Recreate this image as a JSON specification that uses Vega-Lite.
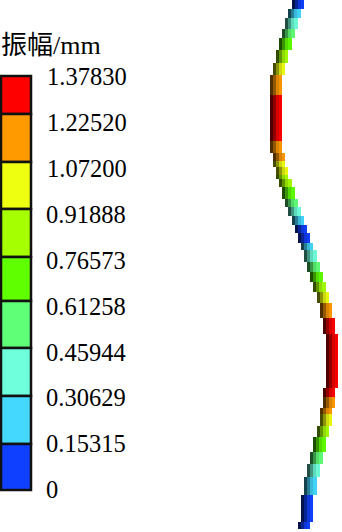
{"$schema":"https://vega.github.io/schema/vega-lite/v6.json","width":342,"height":532,"padding":0,"autosize":"none","background":"white","config":{"view":{"stroke":null}},
"datasets":{"strip":[
{"x0":292,"x1":295,"x2":298,"x3":301,"x4":304,"y0":0,"y1":9,"band":"b0"},
{"x0":288,"x1":291,"x2":294,"x3":297,"x4":301,"y0":9,"y1":18,"band":"b1"},
{"x0":285,"x1":288,"x2":291,"x3":294,"x4":298,"y0":18,"y1":29,"band":"b2"},
{"x0":282,"x1":285,"x2":288,"x3":291,"x4":295,"y0":29,"y1":38,"band":"b3"},
{"x0":279,"x1":282,"x2":285,"x3":288,"x4":292,"y0":38,"y1":50,"band":"b4"},
{"x0":276,"x1":279,"x2":282,"x3":285,"x4":288,"y0":50,"y1":63,"band":"b5"},
{"x0":273,"x1":276,"x2":279,"x3":282,"x4":285,"y0":63,"y1":75,"band":"b6"},
{"x0":270,"x1":273,"x2":276,"x3":279,"x4":282,"y0":75,"y1":95,"band":"b7"},
{"x0":270,"x1":273,"x2":276,"x3":279,"x4":282,"y0":95,"y1":141,"band":"b8"},
{"x0":270,"x1":273,"x2":276,"x3":279,"x4":282,"y0":141,"y1":153,"band":"b7"},
{"x0":273,"x1":276,"x2":279,"x3":282,"x4":285,"y0":153,"y1":161,"band":"b7"},
{"x0":273,"x1":276,"x2":279,"x3":282,"x4":285,"y0":161,"y1":167,"band":"b6"},
{"x0":276,"x1":279,"x2":282,"x3":285,"x4":288,"y0":167,"y1":175,"band":"b6"},
{"x0":276,"x1":279,"x2":282,"x3":285,"x4":288,"y0":175,"y1":179,"band":"b5"},
{"x0":279,"x1":282,"x2":285,"x3":288,"x4":292,"y0":179,"y1":187,"band":"b5"},
{"x0":282,"x1":285,"x2":288,"x3":291,"x4":295,"y0":187,"y1":199,"band":"b4"},
{"x0":285,"x1":288,"x2":291,"x3":294,"x4":298,"y0":199,"y1":207,"band":"b3"},
{"x0":288,"x1":291,"x2":294,"x3":297,"x4":301,"y0":207,"y1":216,"band":"b2"},
{"x0":292,"x1":295,"x2":298,"x3":301,"x4":304,"y0":216,"y1":225,"band":"b1"},
{"x0":295,"x1":298,"x2":301,"x3":304,"x4":307,"y0":225,"y1":233,"band":"b0"},
{"x0":298,"x1":301,"x2":304,"x3":307,"x4":310,"y0":233,"y1":243,"band":"b0"},
{"x0":301,"x1":304,"x2":307,"x3":310,"x4":313,"y0":243,"y1":250,"band":"b1"},
{"x0":304,"x1":307,"x2":310,"x3":313,"x4":317,"y0":250,"y1":262,"band":"b2"},
{"x0":307,"x1":310,"x2":313,"x3":316,"x4":320,"y0":262,"y1":272,"band":"b3"},
{"x0":310,"x1":313,"x2":316,"x3":319,"x4":323,"y0":272,"y1":282,"band":"b4"},
{"x0":313,"x1":316,"x2":319,"x3":322,"x4":326,"y0":282,"y1":292,"band":"b5"},
{"x0":317,"x1":320,"x2":323,"x3":326,"x4":329,"y0":292,"y1":303,"band":"b6"},
{"x0":320,"x1":323,"x2":326,"x3":329,"x4":332,"y0":303,"y1":318,"band":"b7"},
{"x0":323,"x1":326,"x2":329,"x3":332,"x4":335,"y0":318,"y1":334,"band":"b8"},
{"x0":326,"x1":329,"x2":332,"x3":335,"x4":338,"y0":334,"y1":388,"band":"b8"},
{"x0":323,"x1":326,"x2":329,"x3":332,"x4":335,"y0":388,"y1":397,"band":"b8"},
{"x0":323,"x1":326,"x2":329,"x3":332,"x4":335,"y0":397,"y1":408,"band":"b7"},
{"x0":320,"x1":323,"x2":326,"x3":329,"x4":332,"y0":408,"y1":414,"band":"b7"},
{"x0":320,"x1":323,"x2":326,"x3":329,"x4":332,"y0":414,"y1":426,"band":"b6"},
{"x0":317,"x1":320,"x2":323,"x3":326,"x4":329,"y0":426,"y1":437,"band":"b5"},
{"x0":313,"x1":316,"x2":319,"x3":322,"x4":326,"y0":437,"y1":452,"band":"b4"},
{"x0":310,"x1":313,"x2":316,"x3":319,"x4":323,"y0":452,"y1":464,"band":"b3"},
{"x0":307,"x1":310,"x2":313,"x3":316,"x4":320,"y0":464,"y1":477,"band":"b2"},
{"x0":304,"x1":307,"x2":310,"x3":313,"x4":317,"y0":477,"y1":495,"band":"b1"},
{"x0":301,"x1":304,"x2":307,"x3":310,"x4":313,"y0":495,"y1":522,"band":"b0"},
{"x0":298,"x1":301,"x2":304,"x3":307,"x4":310,"y0":522,"y1":529,"band":"b0"}
],
"key":[
{"x0":1,"x4":31,"y0":76,"y1":114,"band":"b8"},
{"x0":1,"x4":31,"y0":114,"y1":162,"band":"b7"},
{"x0":1,"x4":31,"y0":162,"y1":209,"band":"b6"},
{"x0":1,"x4":31,"y0":209,"y1":257,"band":"b5"},
{"x0":1,"x4":31,"y0":257,"y1":301,"band":"b4"},
{"x0":1,"x4":31,"y0":301,"y1":348,"band":"b3"},
{"x0":1,"x4":31,"y0":348,"y1":396,"band":"b2"},
{"x0":1,"x4":31,"y0":396,"y1":444,"band":"b1"},
{"x0":1,"x4":31,"y0":444,"y1":490,"band":"b0"}
],
"labels":[
{"px":47,"py":78,"label":"1.37830"},
{"px":47,"py":124,"label":"1.22520"},
{"px":47,"py":170,"label":"1.07200"},
{"px":46,"py":216,"label":"0.91888"},
{"px":46,"py":262,"label":"0.76573"},
{"px":46,"py":308,"label":"0.61258"},
{"px":46,"py":354,"label":"0.45944"},
{"px":46,"py":399,"label":"0.30629"},
{"px":46,"py":445,"label":"0.15315"},
{"px":46,"py":491,"label":"0"}
],
"heading":[{"px":1,"py":46,"label":"振幅/mm"}]},
"encoding":{},
"layer":[
{"data":{"name":"strip"},"mark":{"type":"rect","color":"black"},"encoding":{"x":{"field":"x0","type":"quantitative","scale":{"domain":[0,342]},"axis":null},"x2":{"field":"x4"},"y":{"field":"y0","type":"quantitative","scale":{"domain":[532,0]},"axis":null},"y2":{"field":"y1"}}},
{"data":{"name":"strip"},"mark":{"type":"rect","opacity":0.3},"encoding":{"x":{"field":"x0","type":"quantitative","scale":{"domain":[0,342]},"axis":null},"x2":{"field":"x1"},"y":{"field":"y0","type":"quantitative","scale":{"domain":[532,0]},"axis":null},"y2":{"field":"y1"},"color":{"field":"band","type":"nominal","legend":null,"scale":{"domain":["b0","b1","b2","b3","b4","b5","b6","b7","b8"],"range":["#1040ff","#44d8ff","#70ffdc","#60ff78","#60ff00","#a6ff00","#eeff10","#ff9a00","#ff0000"]}}}},
{"data":{"name":"strip"},"mark":{"type":"rect","opacity":0.58},"encoding":{"x":{"field":"x1","type":"quantitative","scale":{"domain":[0,342]},"axis":null},"x2":{"field":"x2"},"y":{"field":"y0","type":"quantitative","scale":{"domain":[532,0]},"axis":null},"y2":{"field":"y1"},"color":{"field":"band","type":"nominal","legend":null}}},
{"data":{"name":"strip"},"mark":{"type":"rect","opacity":0.85},"encoding":{"x":{"field":"x2","type":"quantitative","scale":{"domain":[0,342]},"axis":null},"x2":{"field":"x3"},"y":{"field":"y0","type":"quantitative","scale":{"domain":[532,0]},"axis":null},"y2":{"field":"y1"},"color":{"field":"band","type":"nominal","legend":null}}},
{"data":{"name":"strip"},"mark":{"type":"rect","opacity":0.97},"encoding":{"x":{"field":"x3","type":"quantitative","scale":{"domain":[0,342]},"axis":null},"x2":{"field":"x4"},"y":{"field":"y0","type":"quantitative","scale":{"domain":[532,0]},"axis":null},"y2":{"field":"y1"},"color":{"field":"band","type":"nominal","legend":null}}},
{"data":{"name":"key"},"mark":{"type":"rect","stroke":"#111111","strokeWidth":2.5},"encoding":{"x":{"field":"x0","type":"quantitative","scale":{"domain":[0,342]},"axis":null},"x2":{"field":"x4"},"y":{"field":"y0","type":"quantitative","scale":{"domain":[532,0]},"axis":null},"y2":{"field":"y1"},"color":{"field":"band","type":"nominal","legend":null}}},
{"data":{"name":"labels"},"mark":{"type":"text","align":"left","baseline":"middle","font":"Liberation Serif","fontSize":24.5,"color":"#000000"},"encoding":{"x":{"field":"px","type":"quantitative","scale":{"domain":[0,342]},"axis":null},"y":{"field":"py","type":"quantitative","scale":{"domain":[532,0]},"axis":null},"text":{"field":"label","type":"nominal"}}},
{"data":{"name":"heading"},"mark":{"type":"text","align":"left","baseline":"middle","font":"Liberation Serif, Noto Sans CJK SC","fontSize":26,"color":"#000000"},"encoding":{"x":{"field":"px","type":"quantitative","scale":{"domain":[0,342]},"axis":null},"y":{"field":"py","type":"quantitative","scale":{"domain":[532,0]},"axis":null},"text":{"field":"label","type":"nominal"}}}
]}
